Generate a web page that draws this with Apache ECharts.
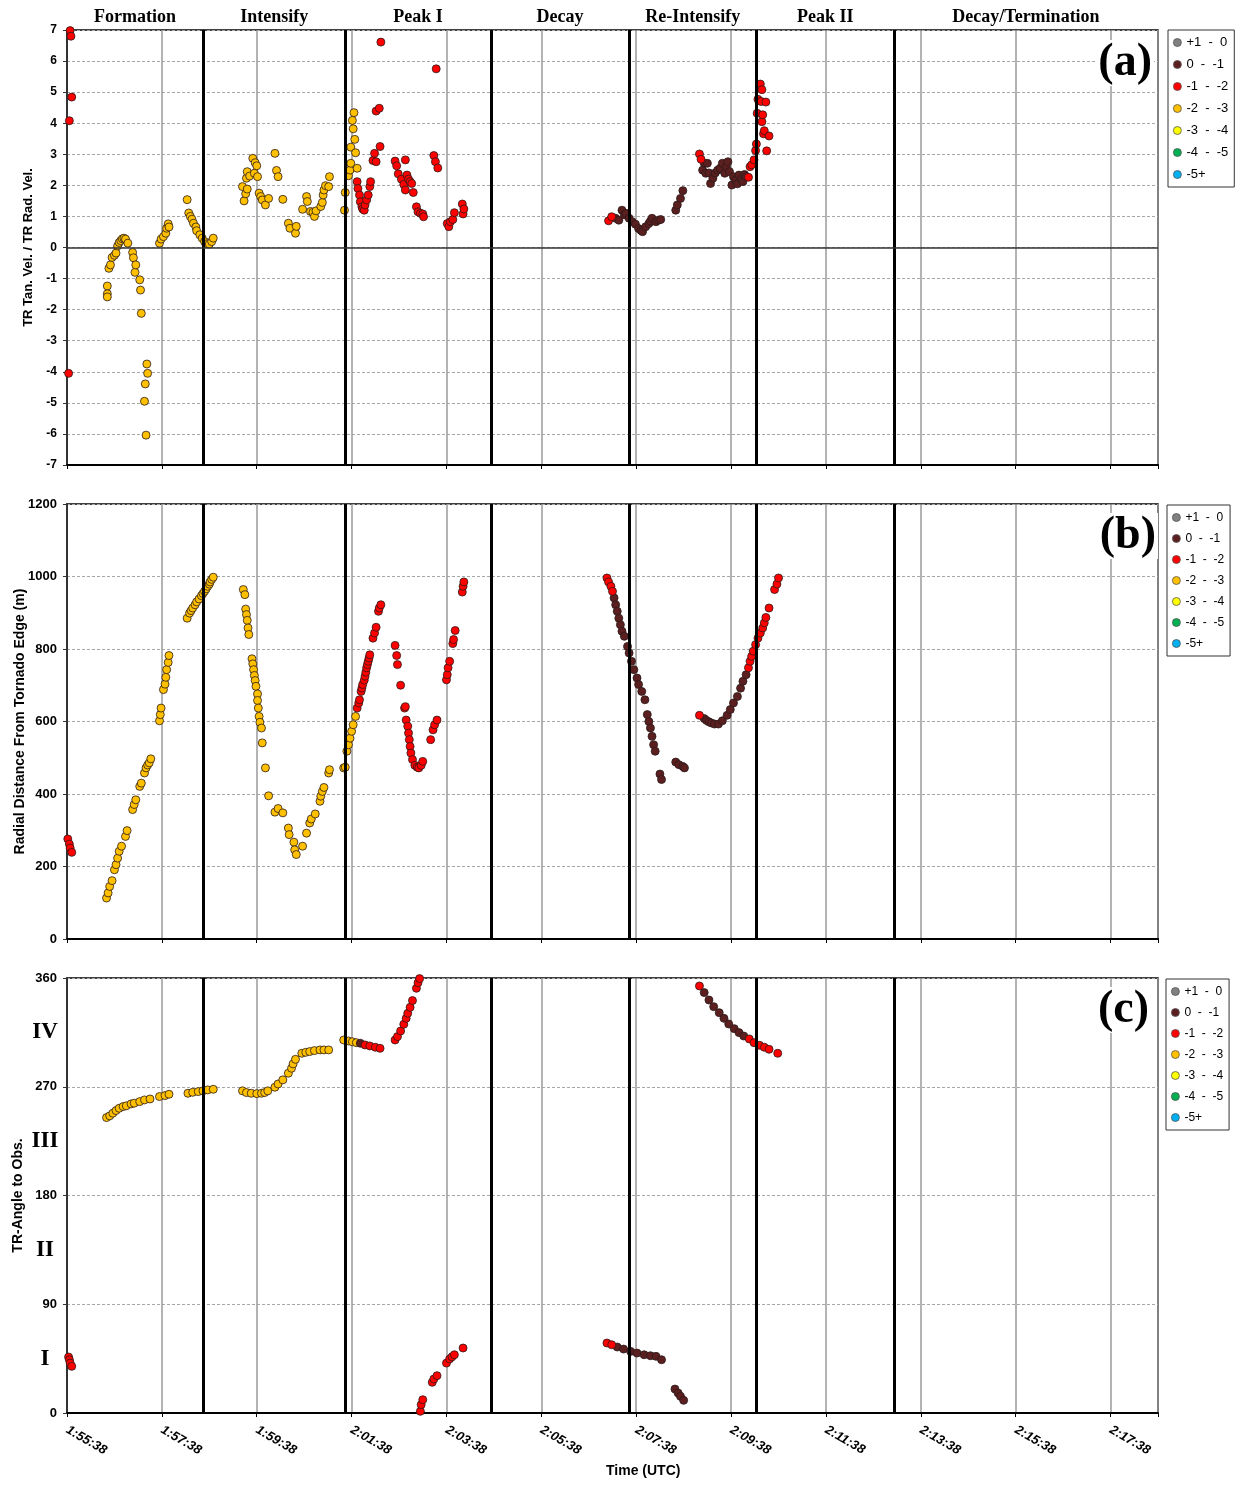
<!DOCTYPE html>
<html>
<head>
<meta charset="utf-8">
<script src="https://cdn.jsdelivr.net/npm/echarts@6/dist/echarts.min.js"></script>
<style>
  html, body { margin: 0; padding: 0; background: #fff; }
  #chart { width: 1243px; height: 1494px; }
</style>
</head>
<body>
<div id="chart"></div>
<script>
// time is seconds after 1:55:38 UTC
const startSec = 1 * 3600 + 55 * 60 + 38;
const phaseEdges = [0, 172, 352, 536, 711, 872, 1046, 1380];
const phaseNames = ['Formation', 'Intensify', 'Peak I', 'Decay', 'Re-Intensify', 'Peak II', 'Decay/Termination'];
const quadrantLabels = { 45: 'I', 135: 'II', 225: 'III', 315: 'IV' };

const categories = ['+1  -  0', '0  -  -1', '-1  -  -2', '-2  -  -3', '-3  -  -4', '-4  -  -5', '-5+'];
const catColors = ['#808080', '#5c1f1f', '#ff0000', '#ffc000', '#ffff00', '#00b050', '#00b0f0'];

// (a) TR tangential / radial velocity ratio
const aOrange = [
  [51, -1.24], [51, -1.49], [51, -1.59], [53, -0.67], [55, -0.56], [57, -0.32], [60, -0.25], [62, -0.18],
  [64, 0.05], [66, 0.16], [68, 0.22], [70, 0.28], [72, 0.3], [74, 0.27], [77, 0.14],
  [83, -0.16], [84, -0.33], [86, -0.8], [87, -0.56], [92, -1.04], [93, -1.37], [94, -2.12],
  [98, -4.95], [99, -4.39], [100, -6.04], [101, -3.75], [102, -4.05],
  [117, 0.14], [119, 0.27], [122, 0.35], [125, 0.46], [126, 0.62], [128, 0.76], [129, 0.66],
  [152, 1.54], [154, 1.11], [156, 1.0], [158, 0.91], [160, 0.78], [163, 0.66], [164, 0.54], [168, 0.41],
  [171, 0.3], [174, 0.19], [177, 0.12], [180, 0.11], [183, 0.19], [185, 0.3],
  [222, 1.96], [224, 1.5], [226, 1.73], [227, 2.23], [228, 1.88], [228, 2.44], [231, 2.3], [235, 2.87],
  [237, 2.39], [238, 2.73], [240, 2.63], [241, 2.28], [243, 1.75], [245, 1.64], [247, 1.53], [251, 1.37],
  [255, 1.58], [263, 3.03], [265, 2.48], [267, 2.28], [273, 1.55], [280, 0.78], [282, 0.62], [289, 0.46],
  [290, 0.68], [298, 1.23], [303, 1.64], [304, 1.48], [308, 1.16], [311, 1.13], [313, 1.0], [315, 1.18],
  [321, 1.32], [323, 1.45], [324, 1.69], [325, 1.85], [327, 1.99], [331, 1.96], [332, 2.28],
  [351, 1.2], [352, 1.77], [356, 2.31], [358, 2.49], [359, 2.71], [359, 3.23], [361, 4.09], [362, 3.82],
  [363, 4.34], [364, 3.48], [365, 3.05], [367, 2.55]
];
const aBrown = [
  [694, 0.94], [698, 0.88], [702, 1.2], [705, 1.05], [707, 1.1], [711, 0.94], [715, 0.83], [719, 0.75],
  [723, 0.61], [726, 0.55], [728, 0.51], [732, 0.67], [736, 0.77], [738, 0.85], [740, 0.94], [745, 0.83],
  [748, 0.88], [751, 0.9],
  [770, 1.2], [772, 1.37], [776, 1.58], [779, 1.83],
  [804, 2.49], [806, 2.71], [808, 2.39], [810, 2.71], [812, 2.4], [814, 2.06], [817, 2.23], [820, 2.4],
  [823, 2.49], [826, 2.55], [829, 2.71], [832, 2.39], [834, 2.6], [836, 2.76], [838, 2.44], [841, 2.01],
  [843, 2.28], [846, 2.17], [848, 2.05], [850, 2.33], [853, 2.2], [855, 2.12], [857, 2.35], [859, 2.28]
];
const aRed = [
  [2, -4.05], [3, 4.08], [4, 6.98], [5, 6.8], [6, 4.84],
  [367, 2.12], [368, 1.9], [370, 1.69], [371, 1.47], [373, 1.31], [374, 1.24], [376, 1.2], [377, 1.37],
  [379, 1.53], [381, 1.69], [383, 1.96], [384, 2.12],
  [387, 2.8], [389, 3.03], [391, 2.76], [391, 4.39], [395, 4.48], [396, 3.25], [397, 6.61],
  [415, 2.78], [417, 2.63], [419, 2.37], [423, 2.2], [426, 2.03], [428, 1.85], [428, 2.82], [430, 2.33],
  [432, 2.2], [434, 2.12], [436, 2.06], [438, 1.77],
  [442, 1.31], [444, 1.15], [447, 1.1], [450, 1.08], [451, 0.99],
  [464, 2.96], [466, 2.76], [467, 5.75], [469, 2.56],
  [481, 0.77], [483, 0.67], [485, 0.83], [488, 0.9], [490, 1.12], [500, 1.4], [501, 1.08], [502, 1.24],
  [685, 0.86], [689, 0.99],
  [800, 3.01], [802, 2.84],
  [862, 2.26], [864, 2.6], [866, 2.66], [869, 2.82], [871, 3.12], [872, 3.33], [873, 4.32], [874, 4.77],
  [877, 5.26], [878, 4.7], [879, 5.08], [879, 4.05], [880, 4.27], [881, 3.66], [882, 3.76], [884, 4.68],
  [885, 3.11], [888, 3.59]
];

// (b) radial distance from tornado edge (m)
const bOrange = [
  [50, 113], [52, 127], [54, 145], [57, 161], [60, 191], [62, 205], [64, 223], [66, 242], [69, 256],
  [74, 283], [76, 299], [83, 357], [85, 371], [87, 384], [92, 421], [94, 430], [98, 458], [100, 472],
  [102, 480], [104, 486], [106, 497],
  [117, 602], [118, 619], [119, 637], [122, 688], [124, 703], [125, 722], [126, 743], [128, 763], [129, 782],
  [152, 885], [155, 899], [157, 906], [159, 913], [162, 922], [164, 930], [167, 938], [170, 947], [172, 953],
  [174, 959], [176, 966], [178, 973], [180, 979], [181, 985], [183, 992], [185, 998],
  [223, 964], [225, 950], [226, 910], [227, 895], [228, 879], [229, 858], [230, 840], [234, 773], [235, 759],
  [236, 743], [237, 727], [238, 713], [239, 697], [241, 676], [241, 658], [242, 637], [243, 614], [244, 598],
  [246, 582], [247, 541], [251, 472], [255, 395], [263, 350], [267, 360], [273, 348], [280, 306], [281, 288],
  [287, 267], [288, 246], [290, 233], [298, 256], [303, 292], [307, 320], [309, 331], [314, 345], [320, 380],
  [321, 394], [323, 407], [325, 418], [331, 458], [332, 467],
  [350, 472], [352, 474], [354, 518], [356, 536], [358, 554], [360, 573], [362, 591], [365, 614]
];
const bBrown = [
  [692, 941], [694, 922], [696, 904], [698, 885], [700, 867], [702, 849], [705, 835], [709, 807], [711, 789],
  [714, 766], [717, 743], [721, 720], [723, 702], [727, 683], [731, 660], [734, 619], [736, 600], [738, 582],
  [740, 559], [742, 536], [744, 518], [750, 455], [752, 440],
  [770, 488], [774, 481], [779, 476], [781, 472],
  [806, 608], [809, 603], [812, 599], [815, 596], [819, 593], [824, 593], [829, 602], [835, 617], [839, 633],
  [843, 651], [848, 669], [852, 692], [855, 711], [859, 729]
];
const bRed = [
  [1, 276], [3, 262], [4, 251], [6, 239],
  [367, 637], [369, 651], [370, 660], [372, 683], [373, 692], [374, 702], [376, 714], [377, 725], [378, 736],
  [379, 748], [380, 757], [381, 766], [382, 775], [383, 784], [387, 830], [389, 844], [391, 860], [394, 904],
  [395, 913], [397, 922],
  [415, 810], [417, 782], [418, 757], [422, 700], [427, 637], [428, 641], [429, 604], [431, 587], [432, 568],
  [433, 550], [434, 531], [435, 513], [437, 495], [440, 479], [443, 474], [445, 472], [448, 479], [450, 490],
  [460, 550], [463, 577], [465, 591], [468, 604],
  [480, 715], [481, 729], [482, 748], [484, 766], [488, 815], [489, 826], [491, 851], [500, 957], [501, 973],
  [502, 985],
  [683, 996], [685, 985], [688, 973], [690, 959],
  [800, 617],
  [862, 748], [864, 766], [866, 780], [868, 794], [871, 812], [874, 830], [877, 844], [880, 858], [882, 872],
  [884, 887], [888, 913], [895, 964], [898, 979], [900, 996]
];

// (c) TR-angle to observer (deg)
const cOrange = [
  [50, 244.5], [54, 245.9], [58, 248.1], [62, 250.3], [66, 252.2], [71, 253.6], [75, 254.2], [81, 255.8],
  [85, 256.4], [92, 257.7], [98, 259.1], [105, 259.9], [117, 261.9], [124, 262.7], [129, 263.8],
  [153, 264.6], [159, 265.4], [166, 266], [172, 266.6], [178, 267.4], [185, 267.9],
  [222, 266.6], [227, 265.2], [233, 264.6], [240, 264.3], [246, 264.6], [250, 265.2], [254, 266.6],
  [263, 269.6], [267, 272.3], [273, 275.7], [280, 281.2], [284, 285.3], [286, 288.9], [289, 292.7],
  [297, 297.7], [302, 298.5], [307, 299.1], [313, 299.9], [320, 300.5], [325, 300.5], [331, 300.5],
  [350, 308.7], [356, 307.9], [361, 307.2], [366, 306.5]
];
const cBrown = [
  [371, 306],
  [696, 54.6], [704, 52.9], [713, 51], [721, 49.6], [730, 48.2], [738, 47.4], [745, 46.9], [752, 44.1],
  [769, 19.8], [773, 16.5], [776, 13.8], [780, 10.5],
  [806, 347.9], [812, 341.8], [818, 336.3], [825, 331.3], [831, 326.6], [837, 322], [844, 318.1],
  [850, 314.8], [856, 312]
];
const cRed = [
  [2, 46.3], [3, 44.1], [4, 41.3], [6, 38.6],
  [377, 304.6], [383, 303.8], [390, 302.7], [396, 301.8],
  [415, 308.7], [418, 311.5], [422, 316.2], [426, 321.7], [429, 326.6], [431, 330.8], [434, 335.7],
  [437, 341.3], [442, 351.5], [444, 356.1], [446, 359.5],
  [447, 1.4], [448, 6.9], [450, 11], [462, 25.4], [464, 28.1], [468, 30.9], [480, 41.3], [484, 44.7],
  [487, 46.5], [490, 48.2], [501, 53.8],
  [683, 57.9], [689, 56.5],
  [800, 353.4],
  [863, 309.6], [869, 306.5], [876, 304.3], [882, 302.7], [888, 301], [899, 297.7]
];

const panelData = [
  { 1: aBrown, 2: aRed, 3: aOrange },
  { 1: bBrown, 2: bRed, 3: bOrange },
  { 1: cBrown, 2: cRed, 3: cOrange }
];

const sans = 'Liberation Sans, Arial, sans-serif';
const serif = 'Liberation Serif, Times New Roman, serif';
const gridTops = [30, 504, 978];

const fmtTime = v => {
  if (v % 120 !== 0) return '';
  const s = startSec + v;
  const h = Math.floor(s / 3600);
  const m = Math.floor((s % 3600) / 60);
  const sec = s % 60;
  return h + ':' + String(m).padStart(2, '0') + ':' + String(sec).padStart(2, '0');
};

const xAx = (i) => ({
  type: 'value',
  gridIndex: i,
  min: 0,
  max: 1380,
  interval: 120,
  axisLine: { onZero: false, lineStyle: { color: '#000', width: 2 } },
  axisTick: { show: true, length: 4, lineStyle: { color: '#000', width: 1 } },
  splitLine: { show: true, lineStyle: { color: '#9a9a9a', width: 1.5 } },
  axisLabel: i === 2 ? {
    rotate: -30,
    margin: 16,
    fontFamily: sans,
    fontSize: 13,
    fontStyle: 'italic',
    fontWeight: 'bold',
    color: '#000',
    formatter: fmtTime
  } : { show: false }
});

const dashed = { color: '#a8a8a8', width: 1, type: [3, 2] };

const yAx = (i, min, max, interval, name, nameGap, nameSize, labelSize) => ({
  type: 'value',
  gridIndex: i,
  min: min,
  max: max,
  interval: interval,
  axisLine: { show: true, lineStyle: { color: '#333', width: 2 } },
  axisTick: { show: true, length: 4, lineStyle: { color: '#333' } },
  splitLine: { show: true, lineStyle: dashed },
  axisLabel: { fontFamily: sans, fontSize: labelSize, fontWeight: 'bold', color: '#000', margin: 10, formatter: v => String(v) },
  name: name,
  nameLocation: 'middle',
  nameGap: nameGap,
  nameMoveOverlap: false,
  nameTextStyle: { fontFamily: sans, fontSize: nameSize, fontWeight: 'bold', color: '#000' }
});

const yAxes = [
  yAx(0, -7, 7, 1, 'TR Tan. Vel. / TR Rad. Vel.', 32, 13, 12),
  yAx(1, 0, 1200, 200, 'Radial Distance From Tornado Edge (m)', 40, 14, 13),
  yAx(2, 0, 360, 90, 'TR-Angle to Obs.', 42, 14, 13),
  {
    type: 'value',
    gridIndex: 2,
    min: 0,
    max: 360,
    interval: 45,
    position: 'left',
    axisLine: { show: false },
    axisTick: { show: false },
    splitLine: { show: false },
    axisLabel: {
      margin: 22,
      align: 'center',
      fontFamily: serif,
      fontSize: 23,
      fontWeight: 'bold',
      color: '#000',
      formatter: v => quadrantLabels[v] || ''
    }
  }
];

const series = [];
const drawOrder = [0, 4, 5, 6, 3, 1, 2];
for (let p = 0; p < 3; p++) {
  const yIdx = p;
  // frame series: phase boundaries, zero line, phase names
  const inner = phaseEdges.slice(1, -1).map(x => ({ xAxis: x }));
  const lines = p === 0 ? inner.concat([{ yAxis: 0, lineStyle: { color: '#333', width: 1.5 } }]) : inner;
  const frame = {
    type: 'scatter',
    xAxisIndex: p,
    yAxisIndex: yIdx,
    data: [],
    z: 1,
    clip: false,
    silent: true,
    markLine: {
      symbol: 'none',
      silent: true,
      label: { show: false },
      lineStyle: { color: '#000', width: 3, type: 'solid' },
      emphasis: { disabled: true },
      data: lines
    }
  };
  if (p === 0) {
    frame.markArea = {
      silent: true,
      itemStyle: { color: 'rgba(0,0,0,0)' },
      label: { show: true, position: 'top', distance: 4, fontFamily: serif, fontSize: 18, fontWeight: 'bold', color: '#000' },
      data: phaseNames.map((n, k) => [{ name: n, xAxis: phaseEdges[k] }, { xAxis: phaseEdges[k + 1] }])
    };
  }
  series.push(frame);
  drawOrder.forEach(c => {
    series.push({
      name: categories[c],
      type: 'scatter',
      xAxisIndex: p,
      yAxisIndex: yIdx,
      symbol: 'circle',
      symbolSize: 8,
      z: 3,
      itemStyle: { color: catColors[c], borderColor: '#2a1a1a', borderWidth: 0.8, opacity: 1 },
      data: panelData[p][c] || []
    });
  });
}

const legendFor = (left, top, size, gap) => ({
  orient: 'vertical',
  left: left,
  top: top,
  data: categories,
  icon: 'circle',
  itemWidth: 8,
  itemHeight: 8,
  itemGap: gap,
  itemStyle: { borderColor: '#555', borderWidth: 0.8 },
  padding: [6, 6, 6, 5],
  borderColor: '#333',
  borderWidth: 1,
  backgroundColor: '#fff',
  selectedMode: false,
  textStyle: { fontFamily: sans, fontSize: size, color: '#000', lineHeight: 13 }
});

const panelTag = (text, right, top) => ({
  text: text,
  right: right,
  top: top,
  padding: [0, 2],
  backgroundColor: '#fff',
  textStyle: { fontFamily: serif, fontSize: 46, fontWeight: 'bold', color: '#000' }
});

const chart = echarts.init(document.getElementById('chart'), null, { renderer: 'canvas' });
chart.setOption({
  animation: false,
  backgroundColor: '#fff',
  title: [
    panelTag('(a)', 89, 40),
    panelTag('(b)', 85, 513),
    panelTag('(c)', 92, 987),
    { text: 'Time (UTC)', left: 606, top: 1464, padding: 0, textStyle: { fontFamily: sans, fontSize: 14, fontWeight: 'bold', color: '#000' } }
  ],
  legend: [legendFor(1168, 30, 13, 9), legendFor(1167, 505, 12, 8), legendFor(1166, 979, 12, 8)],
  grid: gridTops.map(t => ({
    left: 67, top: t, width: 1091, height: 435,
    containLabel: false, outerBoundsMode: 'none',
    show: true, borderColor: '#000', borderWidth: 1.5, backgroundColor: 'transparent'
  })),
  xAxis: [xAx(0), xAx(1), xAx(2)],
  yAxis: yAxes,
  series: series
});
</script>
</body>
</html>
